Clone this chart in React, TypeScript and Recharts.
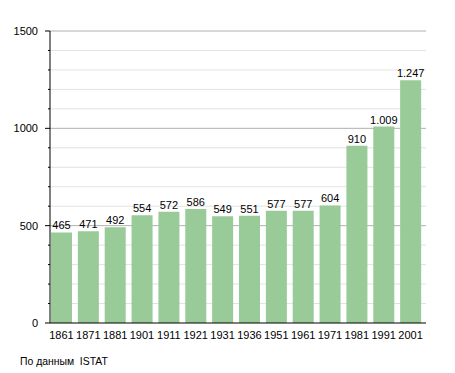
import { BarChart, Bar, XAxis, YAxis, CartesianGrid, LabelList } from 'recharts'

const years = ['1861', '1871', '1881', '1901', '1911', '1921', '1931', '1936', '1951', '1961', '1971', '1981', '1991', '2001']
const population = [465, 471, 492, 554, 572, 586, 549, 551, 577, 577, 604, 910, 1009, 1247]
const yTicks = [0, 100, 200, 300, 400, 500, 600, 700, 800, 900, 1000, 1100, 1200, 1300, 1400, 1500]

const data = years.map((year, i) => ({ year, value: population[i] }))

const FONT = 'Liberation Sans, Arial, sans-serif'

const fmt = (v: number) => v.toString().replace(/\B(?=(\d{3})+(?!\d))/g, '.')

function YTick(props: any) {
  const { x, y, payload } = props
  const major = payload.value % 500 === 0
  return (
    <g>
      <line x1={x + (major ? 3 : 6)} x2={x + 8} y1={y} y2={y} stroke="#000" />
      {major && (
        <text x={x - 4} y={y} dy={4} textAnchor="end" fontSize={11} fontFamily={FONT} fill="#000">
          {payload.value}
        </text>
      )}
    </g>
  )
}

function GridLine(props: any) {
  const { x1, x2, y1, y, height } = props
  const value = Math.round(((y + height - y1) / height) * 15) * 100
  if (value === 0) return null
  const major = value % 500 === 0
  return <line x1={x1} x2={x2} y1={y1} y2={y1} stroke={major ? '#b0b0b0' : '#e2e2e2'} strokeWidth={1} />
}

export default function App() {
  return (
    <div style={{ position: 'absolute', left: 0, top: 0, width: 455, height: 373, background: '#fff' }}>
      <BarChart width={455} height={373} data={data} margin={{ top: 31, right: 29, bottom: 30, left: 8 }}>
        <CartesianGrid vertical={false} horizontal={GridLine} />
        <XAxis
          dataKey="year"
          axisLine={{ stroke: '#000' }}
          tickLine={false}
          tick={{ fontSize: 11, fontFamily: FONT, fill: '#000' }}
          interval={0}
          height={20}
          tickMargin={2}
          padding={{ left: -2, right: 2 }}
        />
        <YAxis
          domain={[0, 1500]}
          ticks={yTicks}
          interval={0}
          width={42}
          axisLine={{ stroke: '#000' }}
          tickLine={false}
          tick={<YTick />}
        />
        <Bar dataKey="value" fill="#98cb98" barSize={21} isAnimationActive={false}>
          <LabelList
            dataKey="value"
            position="top"
            offset={3}
            formatter={(v: any) => fmt(Number(v))}
            style={{ fontSize: 11, fontFamily: FONT, fill: '#000' }}
          />
        </Bar>
      </BarChart>
      <div style={{ position: 'absolute', left: 20, top: 356, fontSize: 10.4, fontFamily: FONT, color: '#000' }}>
        По данным&nbsp; ISTAT
      </div>
    </div>
  )
}
